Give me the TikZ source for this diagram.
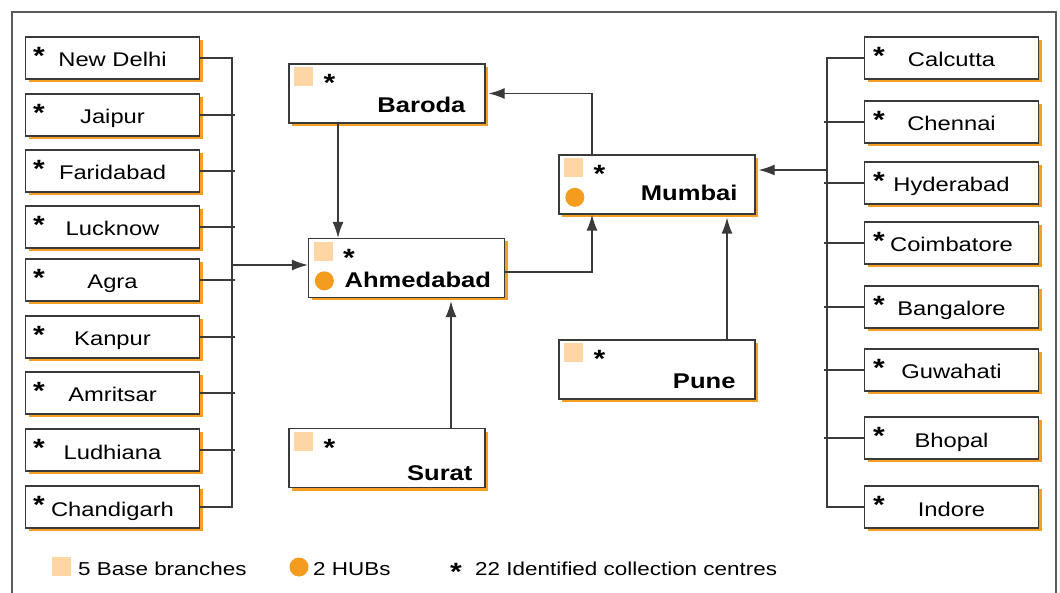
\documentclass[tikz,border=0pt]{standalone}
\usepackage{fontspec}
\setmainfont{Liberation Sans}[FakeStretch=1.2]
\usetikzlibrary{arrows.meta,shadows}

\definecolor{shadeorange}{HTML}{F5A023}
\definecolor{peach}{HTML}{FDD6A4}
\definecolor{huborange}{HTML}{F39C1E}
\definecolor{linegray}{HTML}{3A3A3A}
\definecolor{framegray}{HTML}{5A5A5A}

\newcommand{\cityfont}{\fontsize{19.8}{22}\selectfont}
\newcommand{\hubfont}{\fontsize{21.3}{24}\selectfont\bfseries}
\newcommand{\legfont}{\fontsize{18.7}{21}\selectfont}
\newcommand{\starfont}{\fontsize{25}{27}\selectfont\bfseries}

\tikzset{
  boxed/.style={draw=linegray, line width=1.3pt, fill=white, inner sep=0pt,
    drop shadow={shadow xshift=3pt, shadow yshift=-3pt, fill=shadeorange, opacity=1}},
  citybox/.style={boxed, minimum width=174pt, minimum height=42pt,
    font=\cityfont, text height=18pt, text depth=0pt},
  hubbox/.style={boxed, minimum width=196pt, minimum height=59pt},
  starmark/.style={font=\starfont, inner sep=0pt},
  link/.style={draw=linegray, line width=1.3pt},
  flow/.style={link, -{Latex[length=16pt,width=11pt]}},
}

\begin{document}
\begin{tikzpicture}[x=1pt, y=-1pt]
    \useasboundingbox (0,0) rectangle (1060,593);
    \draw[draw=framegray, line width=1.3pt] (12,593) -- (12,12) -- (1056,12) -- (1056,593);

    % collection centres, left column
    \foreach \id/\name/\y in {nd/New Delhi/58, jai/Jaipur/115, far/Faridabad/171,
      luc/Lucknow/227, agr/Agra/280, kan/Kanpur/337, amr/Amritsar/393,
      lud/Ludhiana/450, cha/Chandigarh/507}
    {
      \node[citybox] (\id) at (112.5,\y) {\name};
      \node[starmark] (\id-s) at ([xshift=14pt, yshift=-20pt]\id.north west) {*};
    }
    % collection centres, right column
    \foreach \id/\name/\y in {cal/Calcutta/58, che/Chennai/122, hyd/Hyderabad/183,
      coi/Coimbatore/243, ban/Bangalore/307, guw/Guwahati/370, bho/Bhopal/438,
      ind/Indore/507}
    {
      \node[citybox] (\id) at (951.5,\y) {\name};
      \node[starmark] (\id-s) at ([xshift=15pt, yshift=-20pt]\id.north west) {*};
    }

    % base branches
    \foreach \id/\name/\cx/\cy/\mr/\mb in {bar/Baroda/387/93.5/20/11,
      ahm/Ahmedabad/406.5/268/14/11, mum/Mumbai/657/184.5/18/14,
      pun/Pune/657/369.5/20/11, sur/Surat/387/458/13/8}
    {
      \node[hubbox] (\id) at (\cx,\cy) {};
      \fill[peach] ([xshift=6pt, yshift=-4pt]\id.north west) rectangle ++(19,19);
      \node[starmark] (\id-s) at ([xshift=41pt, yshift=-20pt]\id.north west) {*};
      \node[anchor=base east, font=\hubfont, inner sep=0pt] (\id-t)
        at ([xshift=-\mr pt, yshift=\mb pt]\id.south east) {\name};
    }
    % hubs
    \foreach \id in {ahm, mum}
      \fill[huborange] ([xshift=16.5pt, yshift=-43pt]\id.north west) circle (9.5pt);

    % left bus
    \coordinate (lb) at (232,0);
    \coordinate (lbx) at (235,0);
    \draw[link] (nd.east) -- (nd.east -| lb) -- (cha.east -| lb) -- (cha.east);
    \foreach \id in {jai, far, luc, agr, kan, amr, lud}
      \draw[link] (\id.east) -- (\id.east -| lbx);
    \coordinate (lin) at (232,265);
    \draw[flow] (lin) -- (lin -| ahm.west);

    % right bus
    \coordinate (rb) at (827,0);
    \coordinate (rbx) at (824,0);
    \draw[link] (cal.west) -- (cal.west -| rb) -- (ind.west -| rb) -- (ind.west);
    \foreach \id in {che, hyd, coi, ban, guw, bho}
      \draw[link] (\id.west) -- (\id.west -| rbx);
    \coordinate (rin) at (827,170);
    \draw[flow] (rin) -- ([xshift=3pt]rin -| mum.east);

    % branch links
    \draw[flow] ([xshift=-49pt]bar.south) -- ([xshift=-49pt]bar.south |- ahm.north);
    \draw[flow] ([yshift=-4pt]ahm.east) -| ([xshift=-65pt]mum.south);
    \draw[flow] ([xshift=-65pt]mum.north) |- ([xshift=3pt]bar.east);
    \draw[flow] ([xshift=64pt]sur.north) -- ([xshift=64pt, yshift=-3pt]sur.north |- ahm.south);
    \draw[flow] ([xshift=70pt]pun.north) -- ([xshift=70pt, yshift=-3pt]pun.north |- mum.south);

    % legend
    \fill[peach] (52,557) rectangle (71,576);
    \node[anchor=base west, font=\legfont, inner sep=0pt] (leg-base) at (78,575) {5 Base branches};
    \fill[huborange] (299,567) circle (9.5pt);
    \node[anchor=base west, font=\legfont, inner sep=0pt] (leg-hub) at (313,575) {2 HUBs};
    \node[starmark] (leg-s) at (456,572) {*};
    \node[anchor=base west, font=\legfont, inner sep=0pt] (leg-col) at (475,575) {22 Identified collection centres};
\end{tikzpicture}
\end{document}
